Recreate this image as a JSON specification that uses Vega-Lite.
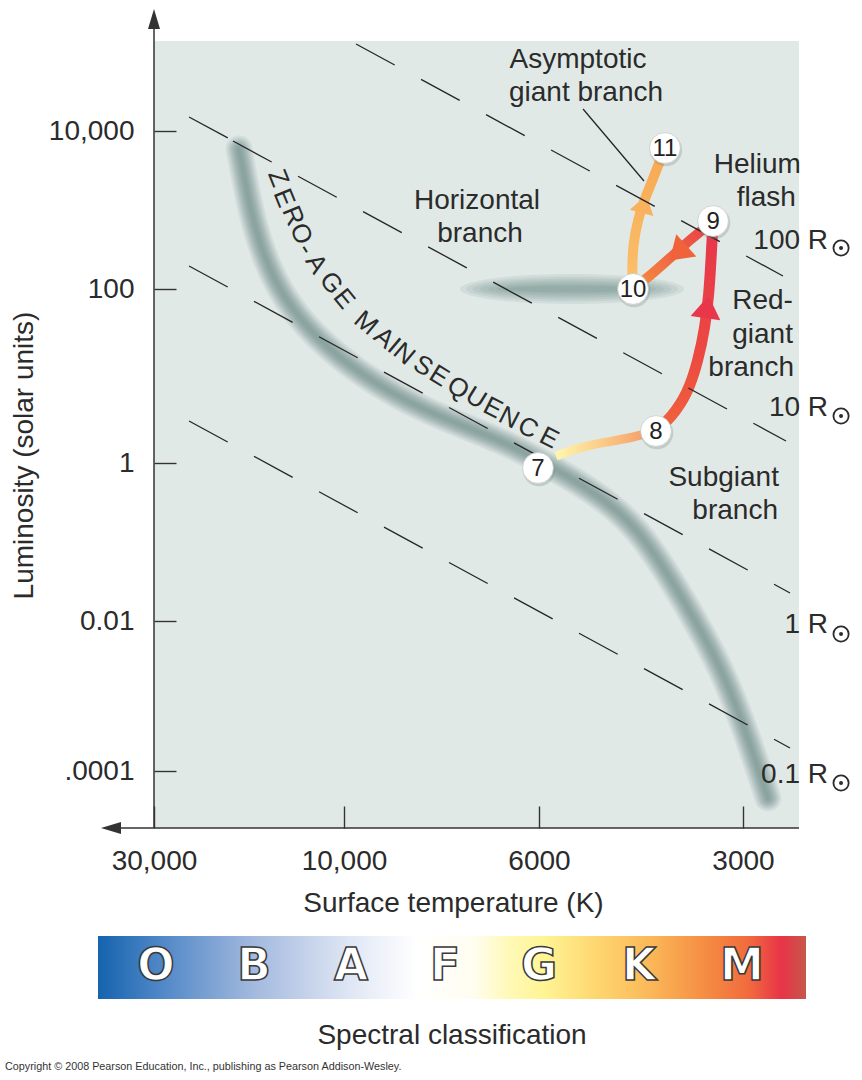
{
  "$schema": "https://vega.github.io/schema/vega-lite/v6.json",
  "background": "white",
  "padding": {"left": 4, "top": 8, "right": 5, "bottom": 5},
  "config": {
    "font": "Liberation Sans",
    "view": {"stroke": null},
    "axis": {"grid": false, "domain": false, "labelFont": "Liberation Sans", "titleFont": "Liberation Sans"}
  },
  "spacing": 108,
  "bounds": "flush",
  "datasets": {
    "zams": [
      {"i":0,"T":18354,"L":5918},{"i":1,"T":17729,"L":2329},{"i":2,"T":17124,"L":971},{"i":3,"T":16349,"L":405},
      {"i":4,"T":15074,"L":134},{"i":5,"T":13048,"L":46.4},{"i":6,"T":10781,"L":19.4},{"i":7,"T":9318,"L":8.76},
      {"i":8,"T":8171,"L":4.18},{"i":9,"T":7170,"L":2.46},{"i":10,"T":6541,"L":1.7},{"i":11,"T":5959,"L":1.05},
      {"i":12,"T":5291,"L":0.592},{"i":13,"T":4730,"L":0.312},{"i":14,"T":4301,"L":0.146},{"i":15,"T":3938,"L":0.0497},
      {"i":16,"T":3544,"L":0.0109},{"i":17,"T":3232,"L":0.00236},{"i":18,"T":3021,"L":0.000509},{"i":19,"T":2851,"L":0.00011},
      {"i":20,"T":2756,"L":0.0000437}
    ],
    "hb": [{"T":5363,"L":100}],
    "t78": [{"i":0,"T":5663,"L":1.204},{"i":1,"T":5202,"L":1.528},{"i":2,"T":4779,"L":1.743},{"i":3,"T":4389,"L":1.939},{"i":4,"T":4032,"L":2.333}],
    "t89": [{"i":0,"T":4032,"L":2.333},{"i":1,"T":3832,"L":3.291},{"i":2,"T":3617,"L":6.375},{"i":3,"T":3496,"L":14.87},{"i":4,"T":3414,"L":35.63},{"i":5,"T":3368,"L":87.6},{"i":6,"T":3345,"L":226.2},{"i":7,"T":3321,"L":725.4}],
    "t910": [{"i":0,"T":3321,"L":725.4},{"i":1,"T":3580,"L":429.5},{"i":2,"T":3858,"L":239.8},{"i":3,"T":4101,"L":150.4},{"i":4,"T":4359,"L":100}],
    "t1011": [{"i":0,"T":4359,"L":100},{"i":1,"T":4374,"L":169},{"i":2,"T":4359,"L":371.2},{"i":3,"T":4286,"L":769.3},{"i":4,"T":4200,"L":1300},{"i":5,"T":4074,"L":2469},{"i":6,"T":3978,"L":4172},{"i":7,"T":3911,"L":6093}],
    "dashes": [
      {"line":"A","i":0,"T":9690,"L":126250},{"line":"A","i":1,"T":2619,"L":146.1},
      {"line":"B1","i":0,"T":24500,"L":15040},{"line":"B1","i":1,"T":19560,"L":8152},
      {"line":"B2","i":0,"T":19000,"L":7469},{"line":"B2","i":1,"T":2592,"L":1.79},
      {"line":"C","i":0,"T":24500,"L":195.5},{"line":"C","i":1,"T":2557,"L":0.02262},
      {"line":"D","i":0,"T":24500,"L":3.04},{"line":"D","i":1,"T":2557,"L":0.0002026}
    ],
    "leader": [{"i":0,"T":5166,"L":18987},{"i":1,"T":4200,"L":2329}],
    "stages": [{"n":"7","T":6016,"L":0.8646},{"n":"8","T":4032,"L":2.333},{"n":"9","T":3321,"L":725.4},{"n":"10","T":4359,"L":100},{"n":"11","T":3911,"L":6093}],
    "zamsText": [
      {"c":"Z","g":1,"T":14645,"L":2542},{"c":"E","g":1,"T":14146,"L":1419},{"c":"R","g":1,"T":13428,"L":839.6},{"c":"O","g":1,"T":12821,"L":497},
      {"c":"-","g":2,"T":12455,"L":320.9},{"c":"A","g":2,"T":11757,"L":207.3},
      {"c":"G","g":3,"T":10781,"L":119.1},{"c":"E","g":3,"T":10000,"L":76.76},
      {"c":"M","g":4,"T":9440,"L":40.66},{"c":"A","g":4,"T":9005,"L":27.34},{"c":"I","g":4,"T":8772,"L":22.13},{"c":"N","g":4,"T":8545,"L":17.9},
      {"c":"S","g":5,"T":8128,"L":13.03},{"c":"E","g":5,"T":7795,"L":10},{"c":"Q","g":5,"T":7417,"L":7.279},{"c":"U","g":5,"T":7077,"L":5.587},
      {"c":"E","g":6,"T":6769,"L":4.287},{"c":"N","g":6,"T":6490,"L":3.291},{"c":"C","g":6,"T":6175,"L":2.526},{"c":"E","g":6,"T":5799,"L":1.939}
    ],
    "labelsC": [
      {"text":"Asymptotic","T":5255,"L":62720},{"text":"giant branch","T":5114,"L":23980},
      {"text":"Horizontal","T":7058,"L":1030},{"text":"branch","T":7003,"L":393.5}
    ],
    "labelsR": [
      {"text":"Helium","T":2464,"L":2940},{"text":"flash","T":2506,"L":1124},
      {"text":"Red-","T":2532,"L":58.9},{"text":"giant","T":2532,"L":23.95},{"text":"branch","T":2523,"L":10},
      {"text":"Subgiant","T":2655,"L":0.5115},{"text":"branch","T":2664,"L":0.1955},
      {"text":"100 R","T":2247,"L":320.9},{"text":"10 R","T":2247,"L":3.47},{"text":"1 R","T":2247,"L":0.006918},{"text":"0.1 R","T":2247,"L":0.00006918}
    ],
    "sun": [{"T":2150,"L":330.3},{"T":2150,"L":3.47},{"T":2150,"L":0.006709},{"T":2150,"L":0.00006918}],
    "classes": [
      {"cls":"O","pos":0.0819},{"cls":"B","pos":0.2203},{"cls":"A","pos":0.3573},{"cls":"F","pos":0.4901},
      {"cls":"G","pos":0.6229},{"cls":"K","pos":0.7641},{"cls":"M","pos":0.9096}
    ]
  },
  "vconcat": [
    {
      "width": 645,
      "height": 787,
      "view": {"fill": "#e1e9e7", "stroke": null},
      "encoding": {
        "x": {
          "field": "T", "type": "quantitative",
          "scale": {"type": "log", "domain": [30000, 10000, 6000, 3000], "range": [0, 190, 385, 589], "nice": false},
          "axis": {
            "values": [30000, 10000, 6000, 3000],
            "labelExpr": "datum.value == 30000 ? '30,000' : datum.value == 10000 ? '10,000' : datum.value == 6000 ? '6000' : '3000'",
            "domain": false, "grid": false,
            "tickSize": -22, "tickColor": "#333333", "tickWidth": 1.4,
            "labelFontSize": 28, "labelColor": "#2b2b2b", "labelPadding": 63, "labelBaseline": "alphabetic", "labelAlign": "center",
            "labelFlush": false, "labelOverlap": false, "labelBound": false,
            "title": "Surface temperature (K)", "titleFontSize": 28, "titleFontWeight": "normal", "titleColor": "#2b2b2b",
            "titleX": 299, "titleY": 83, "titleBaseline": "alphabetic", "titleAlign": "center"
          }
        },
        "y": {
          "field": "L", "type": "quantitative",
          "scale": {"type": "log", "domain": [10000, 100, 1, 0.01, 0.0001], "range": [90, 248, 422, 580, 730], "nice": false},
          "axis": {
            "values": [10000, 100, 1, 0.01, 0.0001],
            "labelExpr": "datum.value == 10000 ? '10,000' : datum.value == 100 ? '100' : datum.value == 1 ? '1' : datum.value == 0.01 ? '0.01' : '.0001'",
            "domain": false, "grid": false,
            "tickSize": -22, "tickColor": "#333333", "tickWidth": 1.4,
            "labelFontSize": 28, "labelColor": "#2b2b2b", "labelPadding": 42, "labelBaseline": "middle", "labelAlign": "right",
            "labelFlush": false, "labelOverlap": false, "labelBound": false,
            "title": "Luminosity (solar units)", "titleFontSize": 28, "titleFontWeight": "normal", "titleColor": "#2b2b2b",
            "titleX": -122, "titleY": 414, "titleAngle": -90, "titleBaseline": "alphabetic", "titleAlign": "center"
          }
        }
      },
      "layer": [
        {"data": {"name": "zams"}, "mark": {"type": "line", "interpolate": "basis", "color": "#6b8c87", "strokeWidth": 27, "opacity": 0.1, "strokeCap": "round"}, "encoding": {"order": {"field": "i"}}},
        {"data": {"name": "zams"}, "mark": {"type": "line", "interpolate": "basis", "color": "#6b8c87", "strokeWidth": 24, "opacity": 0.1, "strokeCap": "round"}, "encoding": {"order": {"field": "i"}}},
        {"data": {"name": "zams"}, "mark": {"type": "line", "interpolate": "basis", "color": "#6b8c87", "strokeWidth": 21, "opacity": 0.11, "strokeCap": "round"}, "encoding": {"order": {"field": "i"}}},
        {"data": {"name": "zams"}, "mark": {"type": "line", "interpolate": "basis", "color": "#6b8c87", "strokeWidth": 18.5, "opacity": 0.11, "strokeCap": "round"}, "encoding": {"order": {"field": "i"}}},
        {"data": {"name": "zams"}, "mark": {"type": "line", "interpolate": "basis", "color": "#6b8c87", "strokeWidth": 16, "opacity": 0.12, "strokeCap": "round"}, "encoding": {"order": {"field": "i"}}},
        {"data": {"name": "zams"}, "mark": {"type": "line", "interpolate": "basis", "color": "#6b8c87", "strokeWidth": 13.5, "opacity": 0.12, "strokeCap": "round"}, "encoding": {"order": {"field": "i"}}},
        {"data": {"name": "zams"}, "mark": {"type": "line", "interpolate": "basis", "color": "#6b8c87", "strokeWidth": 11, "opacity": 0.12, "strokeCap": "round"}, "encoding": {"order": {"field": "i"}}},
        {"data": {"name": "zams"}, "mark": {"type": "line", "interpolate": "basis", "color": "#6b8c87", "strokeWidth": 8.5, "opacity": 0.12, "strokeCap": "round"}, "encoding": {"order": {"field": "i"}}},
        {"data": {"name": "zams"}, "mark": {"type": "line", "interpolate": "basis", "color": "#6b8c87", "strokeWidth": 6, "opacity": 0.12, "strokeCap": "round"}, "encoding": {"order": {"field": "i"}}},
        {"data": {"name": "zams"}, "mark": {"type": "line", "interpolate": "basis", "color": "#6b8c87", "strokeWidth": 3.5, "opacity": 0.12, "strokeCap": "round"}, "encoding": {"order": {"field": "i"}}},
        {"data": {"name": "hb"}, "mark": {"type": "point", "shape": "M-1,0A1,0.134 0 1,1 1,0A1,0.134 0 1,1 -1,0Z", "filled": true, "fill": "#6b8c87", "strokeWidth": 0, "opacity": 0.12, "size": 50176}},
        {"data": {"name": "hb"}, "mark": {"type": "point", "shape": "M-1,0A1,0.118 0 1,1 1,0A1,0.118 0 1,1 -1,0Z", "filled": true, "fill": "#6b8c87", "strokeWidth": 0, "opacity": 0.12, "size": 44944}},
        {"data": {"name": "hb"}, "mark": {"type": "point", "shape": "M-1,0A1,0.106 0 1,1 1,0A1,0.106 0 1,1 -1,0Z", "filled": true, "fill": "#6b8c87", "strokeWidth": 0, "opacity": 0.13, "size": 39204}},
        {"data": {"name": "hb"}, "mark": {"type": "point", "shape": "M-1,0A1,0.092 0 1,1 1,0A1,0.092 0 1,1 -1,0Z", "filled": true, "fill": "#6b8c87", "strokeWidth": 0, "opacity": 0.13, "size": 33856}},
        {"data": {"name": "hb"}, "mark": {"type": "point", "shape": "M-1,0A1,0.077 0 1,1 1,0A1,0.077 0 1,1 -1,0Z", "filled": true, "fill": "#6b8c87", "strokeWidth": 0, "opacity": 0.14, "size": 28224}},
        {"data": {"name": "hb"}, "mark": {"type": "point", "shape": "M-1,0A1,0.06 0 1,1 1,0A1,0.06 0 1,1 -1,0Z", "filled": true, "fill": "#6b8c87", "strokeWidth": 0, "opacity": 0.14, "size": 22500}},
        {"data": {"name": "hb"}, "mark": {"type": "point", "shape": "M-1,0A1,0.045 0 1,1 1,0A1,0.045 0 1,1 -1,0Z", "filled": true, "fill": "#6b8c87", "strokeWidth": 0, "opacity": 0.14, "size": 16900}},
        {"data": {"name": "t78"}, "mark": {"type": "line", "interpolate": "basis", "strokeWidth": 9, "strokeCap": "butt",
          "stroke": {"gradient": "linear", "x1": 0, "y1": 0, "x2": 1, "y2": 0, "stops": [{"offset": 0, "color": "#fff6b0"}, {"offset": 0.5, "color": "#fbc784"}, {"offset": 1, "color": "#f39465"}]}},
          "encoding": {"order": {"field": "i"}}},
        {"data": {"name": "t89"}, "mark": {"type": "line", "interpolate": "basis", "strokeWidth": 11, "strokeCap": "round",
          "stroke": {"gradient": "linear", "x1": 0, "y1": 1, "x2": 0, "y2": 0, "stops": [{"offset": 0, "color": "#f0633c"}, {"offset": 0.35, "color": "#ec4a41"}, {"offset": 1, "color": "#e6354b"}]}},
          "encoding": {"order": {"field": "i"}}},
        {"data": {"name": "t910"}, "mark": {"type": "line", "interpolate": "basis", "strokeWidth": 10, "strokeCap": "round",
          "stroke": {"gradient": "linear", "x1": 1, "y1": 0, "x2": 0, "y2": 1, "stops": [{"offset": 0, "color": "#e93a47"}, {"offset": 1, "color": "#f5913f"}]}},
          "encoding": {"order": {"field": "i"}}},
        {"data": {"name": "t1011"}, "mark": {"type": "line", "interpolate": "basis", "strokeWidth": 10, "strokeCap": "round",
          "stroke": {"gradient": "linear", "x1": 0, "y1": 1, "x2": 0, "y2": 0, "stops": [{"offset": 0, "color": "#fbc16c"}, {"offset": 1, "color": "#f8a752"}]}},
          "encoding": {"order": {"field": "i"}}},
        {"data": {"values": [{"T": 3390, "L": 62.11}]}, "mark": {"type": "point", "shape": "M0,-0.75L1,0.75L-1,0.75Z", "filled": true, "fill": "#e8374b", "strokeWidth": 0, "opacity": 1, "size": 900, "angle": 8}},
        {"data": {"values": [{"T": 3742, "L": 285.6}]}, "mark": {"type": "point", "shape": "M0,-0.75L1,0.75L-1,0.75Z", "filled": true, "fill": "#f0623a", "strokeWidth": 0, "opacity": 1, "size": 900, "angle": 228}},
        {"data": {"values": [{"T": 4200, "L": 1191}]}, "mark": {"type": "point", "shape": "M0,-0.75L1,0.75L-1,0.75Z", "filled": true, "fill": "#f9b15e", "strokeWidth": 0, "opacity": 1, "size": 600, "angle": 15}},
        {"data": {"name": "dashes"}, "mark": {"type": "line", "color": "#262626", "strokeWidth": 1.3, "strokeDash": [44, 30], "strokeCap": "butt"}, "encoding": {"detail": {"field": "line"}, "order": {"field": "i"}}},
        {"data": {"name": "leader"}, "mark": {"type": "line", "color": "#262626", "strokeWidth": 1.3}, "encoding": {"order": {"field": "i"}}},
        {"data": {"name": "stages"}, "mark": {"type": "point", "shape": "circle", "filled": true, "fill": "#6f807c", "opacity": 0.28, "size": 1050, "xOffset": 1, "yOffset": 2, "strokeWidth": 0}},
        {"data": {"name": "stages"}, "mark": {"type": "point", "shape": "circle", "filled": true, "fill": "#ffffff", "opacity": 1, "size": 950, "stroke": "#c3ccc9", "strokeWidth": 0.8}},
        {"data": {"name": "stages"}, "mark": {"type": "text", "fontSize": 24, "color": "#222222", "align": "center", "baseline": "middle", "dy": 1}, "encoding": {"text": {"field": "n"}}},
        {"data": {"name": "zamsText"}, "transform": [{"filter": "datum.g == 1"}], "mark": {"type": "text", "fontSize": 26, "color": "#2b2b2b", "align": "center", "baseline": "middle", "angle": 68}, "encoding": {"text": {"field": "c"}}},
        {"data": {"name": "zamsText"}, "transform": [{"filter": "datum.g == 2"}], "mark": {"type": "text", "fontSize": 26, "color": "#2b2b2b", "align": "center", "baseline": "middle", "angle": 58}, "encoding": {"text": {"field": "c"}}},
        {"data": {"name": "zamsText"}, "transform": [{"filter": "datum.g == 3"}], "mark": {"type": "text", "fontSize": 26, "color": "#2b2b2b", "align": "center", "baseline": "middle", "angle": 51}, "encoding": {"text": {"field": "c"}}},
        {"data": {"name": "zamsText"}, "transform": [{"filter": "datum.g == 4"}], "mark": {"type": "text", "fontSize": 26, "color": "#2b2b2b", "align": "center", "baseline": "middle", "angle": 40}, "encoding": {"text": {"field": "c"}}},
        {"data": {"name": "zamsText"}, "transform": [{"filter": "datum.g == 5"}], "mark": {"type": "text", "fontSize": 26, "color": "#2b2b2b", "align": "center", "baseline": "middle", "angle": 32}, "encoding": {"text": {"field": "c"}}},
        {"data": {"name": "zamsText"}, "transform": [{"filter": "datum.g == 6"}], "mark": {"type": "text", "fontSize": 26, "color": "#2b2b2b", "align": "center", "baseline": "middle", "angle": 27}, "encoding": {"text": {"field": "c"}}},
        {"data": {"name": "labelsC"}, "mark": {"type": "text", "fontSize": 28, "color": "#2b2b2b", "align": "center", "baseline": "alphabetic"}, "encoding": {"text": {"field": "text"}}},
        {"data": {"name": "labelsR"}, "mark": {"type": "text", "fontSize": 28, "color": "#2b2b2b", "align": "right", "baseline": "alphabetic"}, "encoding": {"text": {"field": "text"}}},
        {"data": {"name": "sun"}, "mark": {"type": "point", "shape": "circle", "filled": false, "stroke": "#2b2b2b", "strokeWidth": 1.8, "size": 232, "opacity": 1}},
        {"data": {"name": "sun"}, "mark": {"type": "point", "shape": "circle", "filled": true, "fill": "#2b2b2b", "strokeWidth": 0, "size": 16, "opacity": 1}},
        {"data": {"values": [{"T": 30000, "L": 0.00001738, "L2": 207300}]}, "mark": {"type": "rule", "color": "#333333", "strokeWidth": 1.5}, "encoding": {"y2": {"field": "L2"}}},
        {"data": {"values": [{"T": 36730, "T2": 2480, "L": 0.00001738}]}, "mark": {"type": "rule", "color": "#333333", "strokeWidth": 1.5}, "encoding": {"x2": {"field": "T2"}}},
        {"data": {"values": [{"T": 30000, "L": 261700}]}, "mark": {"type": "point", "shape": "M0,-1L0.6,1L-0.6,1Z", "filled": true, "fill": "#333333", "strokeWidth": 0, "size": 400, "opacity": 1}},
        {"data": {"values": [{"T": 38470, "L": 0.00001738}]}, "mark": {"type": "point", "shape": "M-1,0L1,-0.6L1,0.6Z", "filled": true, "fill": "#333333", "strokeWidth": 0, "size": 400, "opacity": 1}}
      ]
    },
    {
      "width": 645,
      "height": 63,
      "view": {"stroke": null},
      "encoding": {
        "x": {"field": "pos", "type": "quantitative", "scale": {"domain": [0, 1], "range": [-56, 652], "nice": false, "zero": false}, "axis": null}
      },
      "layer": [
        {"data": {"values": [{"pos": 0, "pos2": 1}]},
         "mark": {"type": "rect", "stroke": null,
           "fill": {"gradient": "linear", "x1": 0, "y1": 0, "x2": 1, "y2": 0, "stops": [
             {"offset": 0, "color": "#1563ae"}, {"offset": 0.08, "color": "#4a84c5"}, {"offset": 0.22, "color": "#a3b9de"},
             {"offset": 0.36, "color": "#e1e8f5"}, {"offset": 0.45, "color": "#ffffff"}, {"offset": 0.53, "color": "#fffdf0"},
             {"offset": 0.58, "color": "#fff9b8"}, {"offset": 0.63, "color": "#fff494"}, {"offset": 0.7, "color": "#fed872"},
             {"offset": 0.78, "color": "#fbb858"}, {"offset": 0.86, "color": "#f58b42"}, {"offset": 0.92, "color": "#f16a3e"},
             {"offset": 0.965, "color": "#e83447"}, {"offset": 1, "color": "#c7574b"}]}},
         "encoding": {"x2": {"field": "pos2"}}},
        {"data": {"name": "classes"}, "mark": {"type": "text", "font": "DejaVu Sans", "fontWeight": "bold", "fontSize": 44, "fill": "#ffffff", "stroke": "#3a3a3a", "strokeWidth": 1.5, "align": "center", "baseline": "middle", "dy": -1}, "encoding": {"text": {"field": "cls"}}},
        {"data": {"values": [{"pos": 0.5, "label": "Spectral classification"}]}, "mark": {"type": "text", "fontSize": 28, "color": "#2b2b2b", "align": "center", "baseline": "alphabetic", "dy": 76.5}, "encoding": {"text": {"field": "label"}}},
        {"data": {"values": [{"pos": -0.1314, "label": "Copyright © 2008 Pearson Education, Inc., publishing as Pearson Addison-Wesley."}]}, "mark": {"type": "text", "fontSize": 10.8, "color": "#333333", "align": "left", "baseline": "alphabetic", "dy": 102.5}, "encoding": {"text": {"field": "label"}}}
      ]
    }
  ]
}
